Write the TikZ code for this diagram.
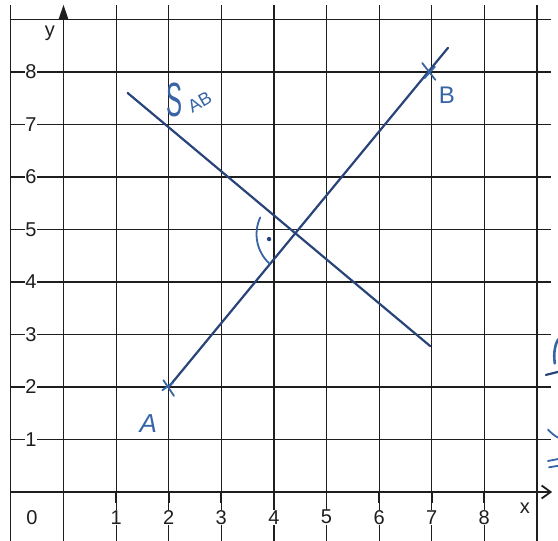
\documentclass[tikz,border=0pt]{standalone}
\usepackage{fontspec}
\setmainfont{Liberation Sans}
\usetikzlibrary{arrows.meta}
\definecolor{gridgray}{RGB}{30,30,30}
\definecolor{ink}{RGB}{40,68,120}
\definecolor{inklight}{RGB}{55,100,165}
\begin{document}
\begin{tikzpicture}[x=52.6pt,y=52.5pt,
  gridline/.style={gridgray,line width=1.2pt},
  axisline/.style={gridgray,line width=1.8pt},
  num/.style={fill=white,inner sep=0.6pt,font=\fontsize{20}{20}\selectfont,text=gridgray},
  axlab/.style={inner sep=0pt,font=\fontsize{20}{20}\selectfont,text=gridgray},
  inkline/.style={ink,line width=2.2pt,line cap=round},
  inkthin/.style={inklight,line width=1.8pt,line cap=round},
  inktext/.style={inklight,inner sep=0pt}]
\useasboundingbox (-1.2072,-0.9143) rectangle (9.4011,9.3714);
\fill[white] (-1.2072,-0.9143) rectangle (9.4011,9.3714);
% grid
\foreach \i in {-1,1,2,...,9} \draw[gridline] (\i,-0.95) -- (\i,9.28);
\foreach \j in {1,...,9} \draw[gridline] (-1,\j) -- (9.27,\j);
% axes
\draw[axisline,-{Straight Barb[length=9pt,width=13pt]}] (-1,0) -- (9.29,0);
\draw[axisline,-{Triangle[length=14pt,width=9pt]}] (0,-0.95) -- (0,9.28);
% ticks
\foreach \j in {1,...,8} \draw[axisline] (-0.48,\j) -- (0,\j);
\foreach \i in {1,...,8} \draw[axisline] (\i,0) -- (\i,-0.2);
% numbers
\foreach \j in {1,...,8} \node[num] (ny\j) at (-0.62,\j) {\j};
\node[num] (nx0) at (-0.6,-0.48) {0};
\foreach \i in {1,...,8} \node[num] (nx\i) at (\i,-0.48) {\i};
\node[axlab] (ylab) at (-0.26,8.74) {y};
\node[axlab] (xlab) at (8.77,-0.31) {x};
% points and lines
\coordinate (A) at (2,2);
\coordinate (B) at (7,8);
\coordinate (Bend) at (7.31,8.46);
\coordinate (S1) at (1.22,7.6);
\coordinate (S2) at (6.97,2.78);
\coordinate (M) at (4.43,4.91);
\draw[inkline] (A) -- (Bend);
\draw[inkline] (S1) -- (S2);
% crosses
\draw[inkthin] (A) ++(-0.1,0.13) -- ++(0.2,-0.3);
\draw[inkthin] (A) ++(-0.12,-0.06) -- ++(0.2,0.14);
\draw[inkthin] (B) ++(-0.18,0.17) -- ++(0.25,-0.32);
\draw[inkthin] (B) ++(-0.14,-0.12) -- ++(0.2,0.22);
% right angle mark
\draw[inkthin] (M) ++(155:0.76) arc[start angle=155,end angle=228,radius=0.76];
\fill[ink] (M) ++(190:0.53) circle (2.2pt);
% labels
\node[inktext,font=\fontsize{26}{26}\selectfont\itshape] (Alab) at (1.61,1.31) {A};
\node[inktext,font=\fontsize{24}{24}\selectfont] (Blab) at (7.29,7.56) {B};
\node[inktext,anchor=base west] (Slab) at (1.95,7.15)
  {\scalebox{0.5}[1]{\fontsize{48}{48}\selectfont S}\hspace{4pt}\raisebox{3pt}{\rotatebox{30}{\fontsize{18}{18}\selectfont AB}}};
% cut-off handwriting at the right edge
\draw[inkthin,line width=2.6pt] (9.34,2.45) .. controls (9.31,2.65) and (9.35,2.85) .. (9.42,2.92);
\draw[inkline] (9.17,2.23) -- (9.41,2.29);
\draw[inkthin] (9.21,1.19) .. controls (9.28,1.12) and (9.34,1.06) .. (9.42,1.03);
\draw[inkthin] (9.21,0.59) -- (9.41,0.63);
\draw[inkthin] (9.23,0.47) -- (9.41,0.50);
\end{tikzpicture}
\end{document}
